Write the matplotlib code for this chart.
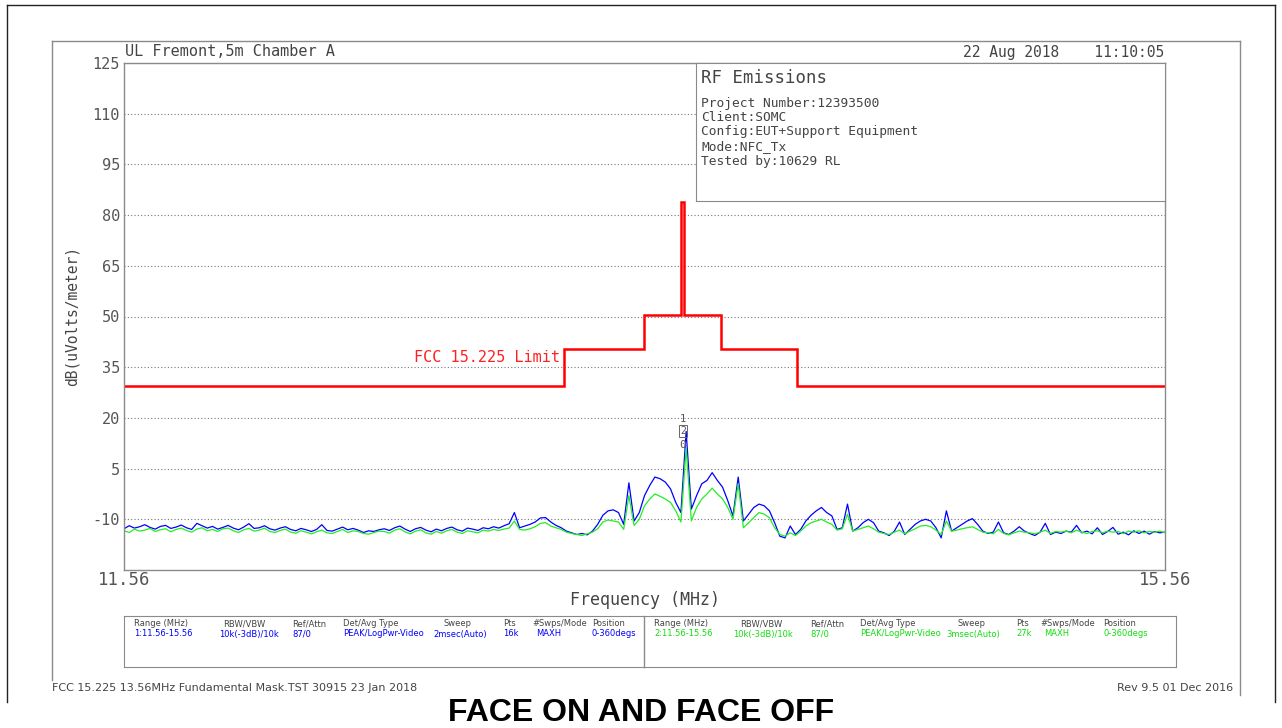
import numpy as np
import matplotlib.pyplot as plt
from matplotlib.lines import Line2D

# ---- data -------------------------------------------------------------------
f_start, f_stop = 11.56, 15.56
y_ticks = [-10, 5, 20, 35, 50, 65, 80, 95, 110, 125]

# FCC 15.225 mask (step edges in MHz, level in dBuV/m)
limit_edges = [11.56, 13.252, 13.558, 13.701, 13.713, 13.855, 14.145, 15.56]
limit_levels = [29.5, 40.5, 50.5, 84.0, 50.5, 40.5, 29.5]

# trace 1 (blue, MAXH) and trace 2 (green), evenly spaced over the span
blue_db = [
    -12.8, -11.9, -12.6, -12.2, -11.6, -12.4, -12.9, -12.1, -11.8, -12.7,
    -12.3, -11.7, -12.5, -13.0, -11.2, -11.9, -12.6, -12.1, -12.9, -12.4,
    -11.8, -12.6, -13.1, -12.3, -11.3, -12.7, -12.5, -11.9, -12.8, -13.2,
    -12.6, -12.2, -13.0, -13.4, -12.7, -13.1, -13.6, -13.0, -11.6, -13.3,
    -13.5, -12.9, -12.3, -13.1, -12.7, -13.2, -13.9, -13.4, -13.6, -13.1,
    -12.8, -13.3, -12.5, -12.0, -12.9, -13.6, -12.8, -12.4, -13.2, -13.7,
    -12.9, -13.4, -12.7, -12.3, -13.1, -13.5, -12.6, -12.9, -13.3, -12.5,
    -12.8, -12.2, -12.6, -11.9, -11.3,
    -8.0, -12.5, -12.0, -11.5, -10.8, -9.6, -9.5, -10.8, -11.8, -12.5,
    -13.5, -14.0, -14.5, -14.2, -14.6, -13.5, -11.5, -8.8, -7.5, -7.2,
    -8.0, -11.5, 0.8, -10.5, -8.0, -3.0, 0.0, 2.5, 2.0, 1.0,
    -1.0, -5.0, -8.0, 16.0, -7.0, -3.0, 0.5, 1.5, 3.8, 1.5,
    -0.5, -4.5, -9.0, 2.5, -10.5, -8.5, -6.5, -5.5, -6.0, -7.5,
    -11.0, -15.0, -15.5, -12.0, -14.5, -13.0, -10.5, -8.8, -7.5, -6.5,
    -8.0, -9.0, -13.0, -12.5, -5.5, -13.5, -12.5, -11.0, -10.0, -11.0,
    -13.5, -14.0, -14.8, -13.5, -10.8, -14.5, -13.0, -11.5, -10.5, -10.0,
    -10.5, -12.5, -15.5, -7.5, -13.5, -12.5, -11.5, -10.5, -9.8, -11.5,
    -13.5, -14.2, -13.8, -10.8, -14.0, -14.5, -13.5, -12.2, -13.5, -14.2,
    -14.8, -13.8, -11.2, -14.5, -13.8, -14.2, -13.5, -13.8, -11.8, -14.0,
    -13.5, -14.3, -12.5, -14.5, -13.6, -12.4, -14.4, -13.8, -14.6, -13.4,
    -14.2, -13.5, -14.4, -13.6, -14.0, -13.8,
]
green_db = [
    -13.4, -13.9, -12.9, -13.5, -13.2, -12.7, -13.6, -13.1, -12.8, -13.7,
    -13.0, -12.6, -13.3, -13.8, -12.9, -12.5, -13.4, -13.0, -13.6, -12.8,
    -12.6, -13.4, -13.9, -13.1, -12.7, -13.5, -13.2, -12.6, -13.6, -13.9,
    -13.3, -12.9, -13.8, -14.1, -13.4, -13.8, -14.3, -13.7, -13.2, -14.0,
    -14.2, -13.6, -13.0, -13.9, -13.4, -13.6, -14.2, -14.4, -13.9, -13.5,
    -13.6, -14.1, -13.2, -12.8, -13.7, -14.3, -13.5, -13.1, -14.0, -14.4,
    -13.6, -14.1, -13.4, -13.0, -13.8, -14.2, -13.4, -13.7, -14.0, -13.2,
    -13.5, -13.0, -13.3, -12.9, -12.6,
    -10.5, -13.0, -13.2, -12.8, -12.2, -11.2, -11.0, -12.0, -12.5, -13.0,
    -13.8, -14.2, -14.5, -14.8, -14.3, -13.8, -12.8, -10.8, -10.2, -10.5,
    -10.8, -13.0, -3.0, -11.8, -10.0, -6.0, -4.0, -2.5, -3.2, -4.0,
    -5.0, -7.5, -10.8, 11.0, -10.5, -6.5, -4.0, -2.5, -0.8, -2.5,
    -4.0, -6.5, -10.0, 0.5, -12.5, -11.0, -9.5, -8.0, -8.5, -9.5,
    -12.5, -14.5, -15.0, -14.0, -14.8, -13.5, -12.0, -11.0, -10.5, -10.0,
    -10.8, -11.5, -13.2, -12.8, -8.5, -13.5, -13.0, -12.5, -12.0, -12.8,
    -13.8, -14.2, -14.5, -13.8, -13.2, -14.3, -13.5, -12.8, -12.0, -11.8,
    -12.2, -13.2, -14.5, -10.5, -13.5, -13.2, -12.8, -12.5, -12.2, -13.0,
    -13.8, -14.0, -14.3, -13.0, -14.2, -14.6, -14.0, -13.5, -13.8, -14.0,
    -14.3, -13.8, -13.2, -14.2, -13.6, -13.8, -13.5, -14.0, -13.2, -13.8,
    -14.2, -13.6, -13.4, -14.0, -13.5, -13.8, -13.6, -14.2, -13.5, -13.8,
    -13.4, -14.0, -13.6, -13.8, -13.5, -14.0,
]
marker_freq = 13.707

info_lines = ["Project Number:12393500", "Client:SOMC", "Config:EUT+Support Equipment",
              "Mode:NFC_Tx", "Tested by:10629 RL"]

tbl_headers = ["Range (MHz)", "RBW/VBW", "Ref/Attn", "Det/Avg Type", "Sweep", "Pts",
               "#Swps/Mode", "Position"]
tbl_blue = ["1:11.56-15.56", "10k(-3dB)/10k", "87/0", "PEAK/LogPwr-Video", "2msec(Auto)",
            "16k", "MAXH", "0-360degs"]
tbl_green = ["2:11.56-15.56", "10k(-3dB)/10k", "87/0", "PEAK/LogPwr-Video", "3msec(Auto)",
             "27k", "MAXH", "0-360degs"]

# ---- layout helpers (pixel -> figure fraction) ------------------------------
W, H = 1282, 728
def fx(x):
    return x / W
def fy(y):
    return 1 - y / H

MONO = 'DejaVu Sans Mono'
TXT = '#444444'
FRAME = '#8a8a8a'

fig = plt.figure(figsize=(W / 100, H / 100), dpi=100)
fig.patch.set_facecolor('white')

# outer and inner frames
frame_segs = [((7, 5), (7, 702), '#222'), ((7, 5), (1275, 5), '#222'), ((1275, 5), (1275, 702), '#222'),
              ((52, 41), (52, 680), FRAME), ((52, 41), (1240, 41), FRAME), ((1240, 41), (1240, 695), FRAME)]
for (p0, p1, c) in frame_segs:
    fig.add_artist(Line2D([fx(p0[0]), fx(p1[0])], [fy(p0[1]), fy(p1[1])],
                          transform=fig.transFigure, color=c, lw=1))

# ---- main axes --------------------------------------------------------------
ax = fig.add_axes([fx(124), fy(570), (1165 - 124) / W, (570 - 63) / H])
ax.set_xlim(f_start, f_stop)
ax.set_ylim(-25, 125)
ax.set_axisbelow(True)

freqs_b = np.linspace(f_start, f_stop, len(blue_db))
freqs_g = np.linspace(f_start, f_stop, len(green_db))
ax.plot(freqs_b, blue_db, color='#0000ff', lw=0.9)
ax.plot(freqs_g, green_db, color='#22ee22', lw=0.9)
ax.stairs(limit_levels, limit_edges, baseline=None, color='#ff0000', lw=1.8)

ax.text(13.235, 37.8, 'FCC 15.225 Limit', ha='right', va='center', family=MONO,
        size=11, color='#ff2020')

# marker annotations at the carrier
ax.text(marker_freq, 19.6, '1', ha='center', va='center', family=MONO, size=7.5, color='#555')
ax.text(marker_freq, 16.2, '2', ha='center', va='center', family=MONO, size=7, color='#555',
        bbox=dict(boxstyle='square,pad=0.1', fc='none', ec='#666', lw=0.7))
ax.text(marker_freq, 12.0, '0', ha='center', va='center', family=MONO, size=8, color='#555')

ax.set_yticks(y_ticks)
ax.set_yticklabels([str(v) for v in y_ticks])
ax.set_xticks([f_start, f_stop])
ax.set_xticklabels(['11.56', '15.56'])
ax.tick_params(axis='y', length=0, pad=3, labelsize=11, labelcolor='#555')
ax.tick_params(axis='x', length=0, pad=1, labelsize=12.5, labelcolor='#555')
for lab in ax.get_yticklabels() + ax.get_xticklabels():
    lab.set_family(MONO)
ax.yaxis.grid(True, linestyle=(0, (1, 2)), color='#777', lw=0.8)
for s in ax.spines.values():
    s.set_color(FRAME)
    s.set_linewidth(1)

ax.set_xlabel('Frequency (MHz)', family=MONO, size=12, color=TXT, labelpad=1)
ax.set_ylabel('dB(uVolts/meter)', family=MONO, size=10.5, color=TXT, labelpad=9)

# header texts
fig.text(fx(125), fy(52), 'UL Fremont,5m Chamber A', ha='left', va='center', family=MONO,
         size=11, color=TXT)
fig.text(fx(1164), fy(52), '22 Aug 2018    11:10:05', ha='right', va='center', family=MONO,
         size=10.5, color=TXT)

# info box
box = fig.add_axes([fx(696), fy(201), (1165 - 696) / W, (201 - 63) / H])
box.set_facecolor('white')
box.set_xticks([])
box.set_yticks([])
for s in box.spines.values():
    s.set_color(FRAME)
fig.text(fx(701), fy(78), 'RF Emissions', ha='left', va='center', family=MONO, size=12.5, color=TXT)
for i, line in enumerate(info_lines):
    fig.text(fx(701), fy(103 + 14.5 * i), line, ha='left', va='center', family=MONO,
             size=9.3, color=TXT)

# settings table
tab = fig.add_axes([fx(124), fy(667), (1176 - 124) / W, (667 - 616) / H])
tab.set_xticks([])
tab.set_yticks([])
for s in tab.spines.values():
    s.set_color(FRAME)
fig.add_artist(Line2D([fx(644), fx(644)], [fy(616), fy(667)], transform=fig.transFigure,
                      color=FRAME, lw=1))
hdr_x_left = [134, 223, 292, 343, 443, 503, 532, 592]
val_x_left = [134, 219, 292, 343, 433, 503, 536, 592]
hdr_x_right = [654, 740, 810, 860, 957, 1016, 1040, 1103]
val_x_right = [654, 733, 810, 860, 946, 1016, 1044, 1103]
for i in range(len(tbl_headers)):
    fig.text(fx(hdr_x_left[i]), fy(624), tbl_headers[i], ha='left', va='center', size=6, color=TXT)
    fig.text(fx(val_x_left[i]), fy(634), tbl_blue[i], ha='left', va='center', size=6, color='#0000ff')
    fig.text(fx(hdr_x_right[i]), fy(624), tbl_headers[i], ha='left', va='center', size=6, color=TXT)
    fig.text(fx(val_x_right[i]), fy(634), tbl_green[i], ha='left', va='center', size=6, color='#11dd11')

# footer
fig.text(fx(52), fy(688), 'FCC 15.225 13.56MHz Fundamental Mask.TST 30915 23 Jan 2018',
         ha='left', va='center', size=8, color=TXT)
fig.text(fx(1233), fy(688), 'Rev 9.5 01 Dec 2016', ha='right', va='center', size=8, color=TXT)
fig.text(fx(641), fy(713), 'FACE ON AND FACE OFF', ha='center', va='center',
         family='Liberation Sans', weight='bold', size=23, color='black')

fig.savefig('out.png', dpi=100, facecolor='white')
